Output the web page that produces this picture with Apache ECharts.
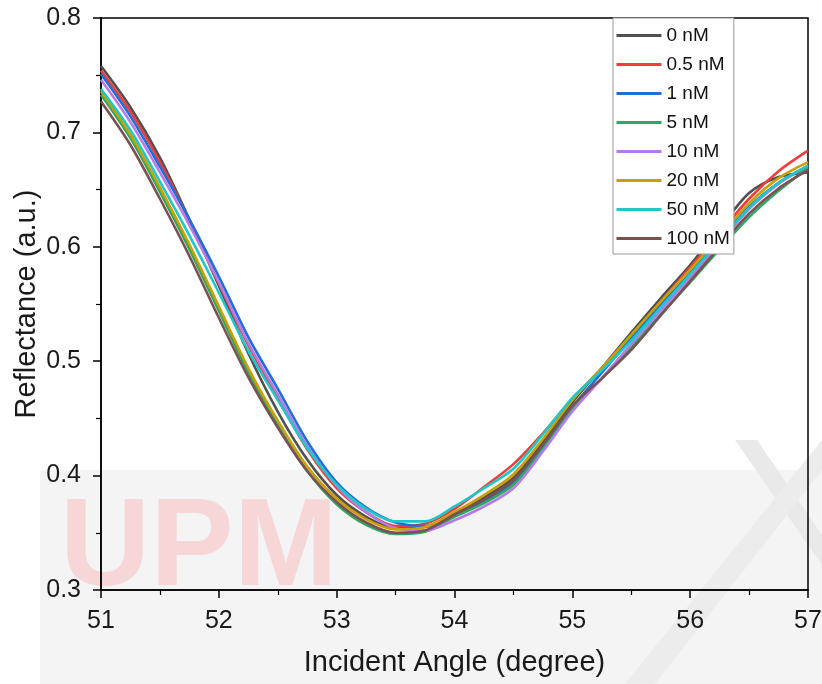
<!DOCTYPE html>
<html><head><meta charset="utf-8">
<script src="https://cdn.jsdelivr.net/npm/echarts@6/dist/echarts.min.js"></script>
<style>html,body{margin:0;padding:0;background:#fff}#c{width:822px;height:684px}</style>
</head><body><div id="c"></div>
<script>
const angles = [51.00,51.25,51.50,51.75,52.00,52.25,52.50,52.75,53.00,53.25,53.50,53.75,54.00,54.25,54.50,54.75,55.00,55.25,55.50,55.75,56.00,56.25,56.50,56.75,57.00];
const names = ["0 nM","0.5 nM","1 nM","5 nM","10 nM","20 nM","50 nM","100 nM"];
const s0nM   = [0.758,0.722,0.678,0.624,0.566,0.507,0.456,0.414,0.383,0.364,0.354,0.355,0.367,0.381,0.398,0.429,0.464,0.494,0.525,0.555,0.584,0.616,0.647,0.661,0.665];
const s05nM  = [0.754,0.718,0.674,0.623,0.568,0.514,0.468,0.423,0.389,0.368,0.356,0.358,0.371,0.390,0.410,0.437,0.467,0.494,0.522,0.552,0.582,0.612,0.642,0.666,0.684];
const s1nM   = [0.751,0.714,0.670,0.624,0.574,0.521,0.476,0.430,0.394,0.372,0.359,0.356,0.365,0.378,0.394,0.425,0.460,0.490,0.520,0.549,0.577,0.606,0.635,0.656,0.670];
const s5nM   = [0.733,0.695,0.648,0.598,0.544,0.490,0.444,0.404,0.375,0.357,0.349,0.351,0.364,0.376,0.392,0.423,0.458,0.485,0.512,0.541,0.569,0.598,0.626,0.649,0.669];
const s10nM  = [0.746,0.709,0.665,0.619,0.569,0.516,0.471,0.426,0.391,0.368,0.354,0.352,0.361,0.373,0.389,0.421,0.456,0.485,0.515,0.544,0.573,0.603,0.633,0.655,0.671];
const s20nM  = [0.736,0.698,0.652,0.602,0.548,0.494,0.448,0.408,0.380,0.362,0.353,0.355,0.368,0.383,0.401,0.432,0.466,0.494,0.523,0.552,0.580,0.609,0.638,0.660,0.674];
const s50nM  = [0.738,0.702,0.657,0.610,0.560,0.509,0.466,0.424,0.392,0.371,0.360,0.360,0.373,0.389,0.406,0.436,0.468,0.492,0.518,0.547,0.576,0.605,0.634,0.656,0.671];
const s100nM = [0.727,0.689,0.642,0.592,0.538,0.486,0.442,0.404,0.377,0.359,0.350,0.352,0.366,0.379,0.396,0.427,0.461,0.485,0.510,0.540,0.570,0.600,0.629,0.651,0.667];
const xTicks = [51,52,53,54,55,56,57];
const yTicks = [0.3,0.4,0.5,0.6,0.7,0.8];

const allSeries = [s0nM,s05nM,s1nM,s5nM,s10nM,s20nM,s50nM,s100nM];
const colors = ['#505050','#f03c3c','#1f6fd8','#2ea862','#b57be8','#c9a000','#1ec8c8','#7a5050'];
const FONT = 'Liberation Sans, Arial, sans-serif';

const chart = echarts.init(document.getElementById('c'), null, {renderer:'canvas'});
chart.setOption({
  animation:false,
  backgroundColor:'#ffffff',
  color: colors,
  graphic:[
    {type:'rect', z:-10, shape:{x:40,y:470,width:782,height:214}, style:{fill:'#f4f4f4'}},
    {type:'text', z:-9, left:60, top:488, style:{text:'UPM', font:'bold 125px Liberation Sans, Arial', fill:'#f6d6d6'}},
    {type:'polygon', z:-9, shape:{points:[[735,440],[757,440],[822,535],[822,565]]}, style:{fill:'#e9e9e9'}},
    {type:'polygon', z:-9, shape:{points:[[822,440],[822,470],[655,684],[625,684]]}, style:{fill:'#ececec'}}
  ],
  grid:{left:101,right:14,top:18,bottom:94,show:true,borderColor:'#000',borderWidth:1.5,backgroundColor:'transparent',
        containLabel:false, outerBoundsMode:'none'},
  legend:{
    orient:'vertical', left:613, top:18, data:names,
    backgroundColor:'#fff', borderColor:'#999', borderWidth:1,
    padding:[8,4,6,2], itemWidth:45, itemHeight:14, itemGap:10,
    itemStyle:{opacity:0},
    lineStyle:{width:3},
    textStyle:{fontFamily:FONT, fontSize:19, color:'#111', lineHeight:14}
  },
  xAxis:{
    type:'value', min:51, max:57, interval:1,
    name:'Incident Angle (degree)', nameLocation:'middle', nameGap:58, nameMoveOverlap:false,
    nameTextStyle:{fontFamily:FONT, fontSize:29, color:'#1a1a1a'},
    axisLine:{show:true, onZero:false, lineStyle:{color:'#000', width:1.5}},
    axisTick:{show:true, inside:false, length:8, lineStyle:{color:'#000', width:1.5}},
    minorTick:{show:true, splitNumber:2, length:5, lineStyle:{color:'#000', width:1.2}},
    axisLabel:{fontFamily:FONT, fontSize:25, color:'#1a1a1a', margin:19,
      formatter:v => xTicks.includes(v) ? String(v) : ''},
    splitLine:{show:false}
  },
  yAxis:{
    type:'value', min:0.3, max:0.8, interval:0.1,
    name:'Reflectance (a.u.)', nameLocation:'middle', nameGap:60, nameRotate:90, nameMoveOverlap:false,
    nameTextStyle:{fontFamily:FONT, fontSize:29, color:'#1a1a1a'},
    axisLine:{show:true, onZero:false, lineStyle:{color:'#000', width:1.5}},
    axisTick:{show:true, inside:false, length:8, lineStyle:{color:'#000', width:1.5}},
    minorTick:{show:true, splitNumber:2, length:5, lineStyle:{color:'#000', width:1.2}},
    axisLabel:{fontFamily:FONT, fontSize:25, color:'#1a1a1a', margin:20,
      formatter:v => { const t = yTicks.find(k => Math.abs(k - v) < 1e-6); return t === undefined ? '' : t.toFixed(1); }},
    splitLine:{show:false}
  },
  series: allSeries.map((arr,i) => ({
    name:names[i], type:'line', symbol:'none', smooth:0.3,
    lineStyle:{width:2.6, color:colors[i]},
    data: angles.map((a,j) => [a, arr[j]])
  }))
});
</script></body></html>
